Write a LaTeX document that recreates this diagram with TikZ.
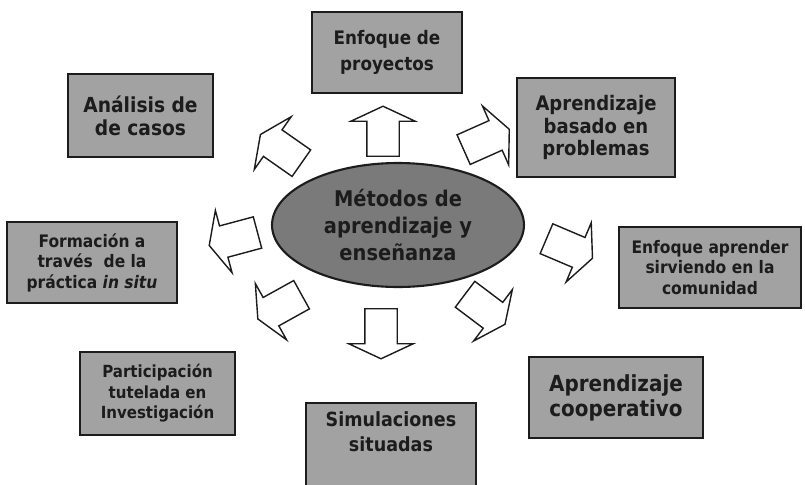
\documentclass[tikz,border=0pt]{standalone}
\usepackage{fontspec}
\setmainfont{DejaVu Sans}[FakeStretch=0.9]
\usetikzlibrary{shapes.geometric,shapes.arrows}

\definecolor{boxgray}{RGB}{162,162,162}
\definecolor{ovalgray}{RGB}{122,122,122}
\definecolor{inkgray}{RGB}{28,28,28}

\newcommand{\tam}[2]{\bfseries\fontsize{#1}{#2}\selectfont}

\tikzset{
  metodo/.style={draw=inkgray, line width=1.2pt, fill=boxgray, text=inkgray,
    align=center, inner sep=0pt},
  flecha/.style={single arrow, draw=inkgray, line width=0.8pt, fill=white,
    minimum height=1cm, inner xsep=0pt, inner ysep=0.31cm,
    single arrow head extend=0.32cm, single arrow tip angle=130},
}

\begin{document}
\begin{tikzpicture}[x=0.02cm, y=-0.02cm]
\useasboundingbox (0,0) rectangle (805,484);

% flechas
\node[flecha, rotate=90] (fproy) at (383,135) {};
\node[flecha, rotate=24] (fprob) at (483,141) {};
\node[flecha, rotate=145] (fcasos) at (284,151) {};
\node[flecha, rotate=195] (finsitu) at (237,238) {};
\node[flecha, rotate=-23] (fcomun) at (566,247) {};
\node[flecha, rotate=-37] (fcoop) at (482,307) {};
\node[flecha, rotate=-90] (fsimul) at (381,330) {};
\node[flecha, rotate=209] (finvest) at (283,305) {};

% centro
\node[ellipse, metodo, fill=ovalgray, minimum width=5.04cm, minimum height=2.48cm,
  font=\tam{12.3}{15.6}] (centro) at (398,225) {M\'etodos de\\aprendizaje y\\ense\~nanza};

% metodos
\node[metodo, minimum width=3.0cm, minimum height=1.62cm, font=\tam{10.6}{14.5}]
  (proy) at (387,52.5) {Enfoque de\\proyectos};
\node[metodo, minimum width=3.16cm, minimum height=1.98cm, font=\tam{11.4}{13}]
  (prob) at (596,127.5) {Aprendizaje\\basado en\\problemas};
\node[metodo, minimum width=2.9cm, minimum height=1.66cm, font=\tam{11.8}{13}]
  (casos) at (140.5,115.5) {An\'alisis de\\de casos};
\node[metodo, minimum width=3.4cm, minimum height=1.62cm, font=\tam{9.8}{11.7}]
  (insitu) at (92,262.5) {Formaci\'on a\\trav\'es\ \ de la\\pr\'actica \textit{in situ}};
\node[metodo, minimum width=3.64cm, minimum height=1.62cm, font=\tam{9.8}{11.7}]
  (comun) at (710,267.5) {Enfoque aprender\\sirviendo en la\\comunidad};
\node[metodo, minimum width=3.1cm, minimum height=1.66cm, font=\tam{9.5}{11.7}]
  (invest) at (157.5,393.5) {Participaci\'on\\tutelada en\\Investigaci\'on};
\node[metodo, minimum width=3.4cm, minimum height=1.68cm, font=\tam{11.1}{14.5}]
  (simul) at (391,445) {Simulaciones\\situadas\\[1pt]};
\node[metodo, minimum width=3.48cm, minimum height=1.62cm, font=\tam{12.6}{14.2}]
  (coop) at (616,397.5) {Aprendizaje\\cooperativo};
\end{tikzpicture}
\end{document}
